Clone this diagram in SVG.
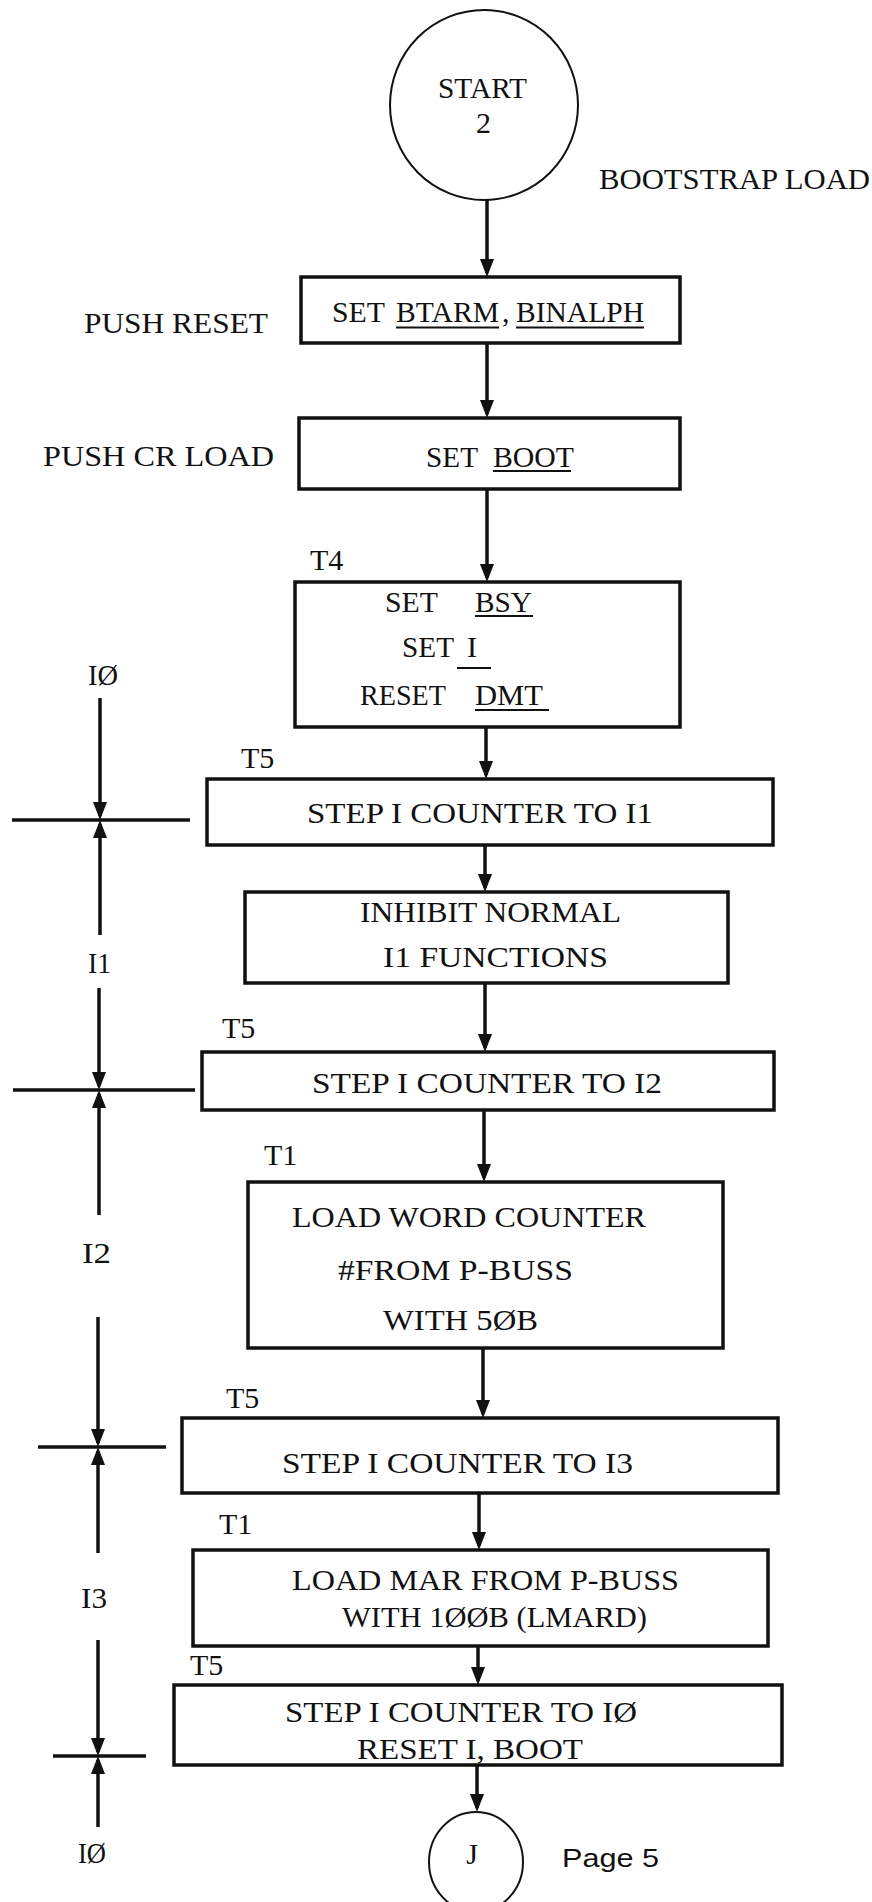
<svg xmlns="http://www.w3.org/2000/svg" width="872" height="1902" viewBox="0 0 872 1902">
<style>
.bg{fill:#fff}
.box{fill:#fff;stroke:#111;stroke-width:3.5}
.circ{fill:#fff;stroke:#111;stroke-width:2}
.t{font-family:"Liberation Serif","DejaVu Serif",serif;font-size:30px;fill:#111}
.s{font-family:"Liberation Sans","DejaVu Sans",sans-serif;font-size:25px;fill:#111}
.conn{stroke:#111;stroke-width:3.5;fill:none;marker-end:url(#ah)}
.tick{stroke:#111;stroke-width:3.5;fill:none}
.ul{stroke:#111;stroke-width:2}
</style>
<defs>
<marker id="ah" viewBox="0 0 18 14" refX="14" refY="7" markerWidth="18" markerHeight="14" markerUnits="userSpaceOnUse" orient="auto">
<path d="M0,0 L18,7 L0,14 z" fill="#111"/>
</marker>
</defs>
<rect class="bg" x="0" y="0" width="872" height="1902"/>

<g id="start">
<ellipse class="circ" cx="484" cy="105" rx="94" ry="95"/>
<text class="t" x="438" y="98" textLength="89" lengthAdjust="spacingAndGlyphs">START</text>
<text class="t" x="476" y="133">2</text>
</g>
<g id="title"><text class="t" x="599" y="189" textLength="271" lengthAdjust="spacingAndGlyphs">BOOTSTRAP LOAD</text></g>

<g id="n1">
<rect class="box" x="301" y="277" width="379" height="66"/>
<text class="t" x="332" y="322" textLength="53" lengthAdjust="spacingAndGlyphs">SET</text>
<text class="t" x="396" y="322" textLength="103" lengthAdjust="spacingAndGlyphs">BTARM</text>
<text class="t" x="502" y="322">,</text>
<text class="t" x="516" y="322" textLength="128" lengthAdjust="spacingAndGlyphs">BINALPH</text>
<line class="ul" x1="396" y1="327.5" x2="499" y2="327.5"/>
<line class="ul" x1="516" y1="327.5" x2="644" y2="327.5"/>
</g>
<g id="l1"><text class="t" x="84" y="333" textLength="184" lengthAdjust="spacingAndGlyphs">PUSH RESET</text></g>

<g id="n2">
<rect class="box" x="299" y="418" width="381" height="71"/>
<text class="t" x="426" y="467" textLength="52" lengthAdjust="spacingAndGlyphs">SET</text>
<text class="t" x="493" y="467" textLength="81" lengthAdjust="spacingAndGlyphs">BOOT</text>
<line class="ul" x1="493" y1="471" x2="571" y2="471"/>
</g>
<g id="l2"><text class="t" x="43" y="466" textLength="231" lengthAdjust="spacingAndGlyphs">PUSH CR LOAD</text></g>

<g id="n3">
<text class="t" x="310" y="570">T4</text>
<rect class="box" x="295" y="582" width="385" height="145"/>
<text class="t" x="385" y="612" textLength="53" lengthAdjust="spacingAndGlyphs">SET</text>
<text class="t" x="475" y="612" textLength="57" lengthAdjust="spacingAndGlyphs">BSY</text>
<line class="ul" x1="475" y1="616" x2="533" y2="616"/>
<text class="t" x="402" y="657" textLength="52" lengthAdjust="spacingAndGlyphs">SET</text>
<text class="t" x="467" y="657">I</text>
<line class="ul" x1="457" y1="668" x2="491" y2="668"/>
<text class="t" x="360" y="705" textLength="86" lengthAdjust="spacingAndGlyphs">RESET</text>
<text class="t" x="475" y="705" textLength="68" lengthAdjust="spacingAndGlyphs">DMT</text>
<line class="ul" x1="475" y1="710" x2="549" y2="710"/>
</g>

<g id="n4">
<text class="t" x="241" y="768">T5</text>
<rect class="box" x="207" y="779" width="566" height="66"/>
<text class="t" x="307" y="823" textLength="346" lengthAdjust="spacingAndGlyphs">STEP I COUNTER TO I1</text>
</g>

<g id="n5">
<rect class="box" x="245" y="892" width="483" height="91"/>
<text class="t" x="360" y="922" textLength="261" lengthAdjust="spacingAndGlyphs">INHIBIT NORMAL</text>
<text class="t" x="383" y="967" textLength="225" lengthAdjust="spacingAndGlyphs">I1 FUNCTIONS</text>
</g>

<g id="n6">
<text class="t" x="222" y="1038">T5</text>
<rect class="box" x="202" y="1052" width="572" height="58"/>
<text class="t" x="312" y="1093" textLength="350" lengthAdjust="spacingAndGlyphs">STEP I COUNTER TO I2</text>
</g>

<g id="n7">
<text class="t" x="264" y="1165">T1</text>
<rect class="box" x="248" y="1182" width="475" height="166"/>
<text class="t" x="292" y="1227" textLength="354" lengthAdjust="spacingAndGlyphs">LOAD WORD COUNTER</text>
<text class="t" x="338" y="1280" textLength="235" lengthAdjust="spacingAndGlyphs">#FROM P-BUSS</text>
<text class="t" x="383" y="1330" textLength="155" lengthAdjust="spacingAndGlyphs">WITH 5ØB</text>
</g>

<g id="n8">
<text class="t" x="226" y="1408">T5</text>
<rect class="box" x="182" y="1418" width="596" height="75"/>
<text class="t" x="282" y="1473" textLength="351" lengthAdjust="spacingAndGlyphs">STEP I COUNTER TO I3</text>
</g>

<g id="n9">
<text class="t" x="219" y="1534">T1</text>
<rect class="box" x="193" y="1550" width="575" height="96"/>
<text class="t" x="292" y="1590" textLength="387" lengthAdjust="spacingAndGlyphs">LOAD MAR FROM P-BUSS</text>
<text class="t" x="342" y="1627" textLength="305" lengthAdjust="spacingAndGlyphs">WITH 1ØØB (LMARD)</text>
</g>

<g id="n10">
<text class="t" x="190" y="1675">T5</text>
<rect class="box" x="174" y="1685" width="608" height="80"/>
<text class="t" x="285" y="1722" textLength="352" lengthAdjust="spacingAndGlyphs">STEP I COUNTER TO IØ</text>
<text class="t" x="357" y="1759" textLength="226" lengthAdjust="spacingAndGlyphs">RESET I, BOOT</text>
</g>

<g id="end">
<ellipse class="circ" cx="476" cy="1862" rx="47" ry="50"/>
<text class="t" x="472" y="1864" text-anchor="middle">J</text>
</g>
<g id="page"><text class="s" x="562" y="1867" textLength="97" lengthAdjust="spacingAndGlyphs">Page 5</text></g>

<g id="timing">
<text class="t" x="88" y="685" textLength="30" lengthAdjust="spacingAndGlyphs">IØ</text>
<text class="t" x="88" y="973" textLength="23" lengthAdjust="spacingAndGlyphs">I1</text>
<text class="t" x="82" y="1263" textLength="29" lengthAdjust="spacingAndGlyphs">I2</text>
<text class="t" x="81" y="1608" textLength="26" lengthAdjust="spacingAndGlyphs">I3</text>
<text class="t" x="78" y="1863" textLength="28" lengthAdjust="spacingAndGlyphs">IØ</text>
<line class="tick" x1="12" y1="820" x2="190" y2="820"/>
<line class="tick" x1="13" y1="1090" x2="195" y2="1090"/>
<line class="tick" x1="38" y1="1447" x2="166" y2="1447"/>
<line class="tick" x1="53" y1="1756" x2="146" y2="1756"/>
</g>

<g id="connectors">
<line class="conn" x1="487" y1="200" x2="487" y2="273"/>
<line class="conn" x1="487" y1="343" x2="487" y2="414"/>
<line class="conn" x1="487" y1="489" x2="487" y2="578"/>
<line class="conn" x1="486" y1="727" x2="486" y2="775"/>
<line class="conn" x1="485" y1="845" x2="485" y2="888"/>
<line class="conn" x1="485" y1="983" x2="485" y2="1048"/>
<line class="conn" x1="484" y1="1110" x2="484" y2="1178"/>
<line class="conn" x1="483" y1="1348" x2="483" y2="1414"/>
<line class="conn" x1="479" y1="1493" x2="479" y2="1546"/>
<line class="conn" x1="478" y1="1646" x2="478" y2="1681"/>
<line class="conn" x1="477" y1="1765" x2="477" y2="1808"/>
<line class="conn" x1="100" y1="698" x2="100" y2="816"/>
<line class="conn" x1="100" y1="935" x2="100" y2="824"/>
<line class="conn" x1="99" y1="988" x2="99" y2="1086"/>
<line class="conn" x1="99" y1="1215" x2="99" y2="1094"/>
<line class="conn" x1="98" y1="1317" x2="98" y2="1443"/>
<line class="conn" x1="98" y1="1553" x2="98" y2="1451"/>
<line class="conn" x1="98" y1="1640" x2="98" y2="1752"/>
<line class="conn" x1="98" y1="1827" x2="98" y2="1760"/>
</g>
</svg>
